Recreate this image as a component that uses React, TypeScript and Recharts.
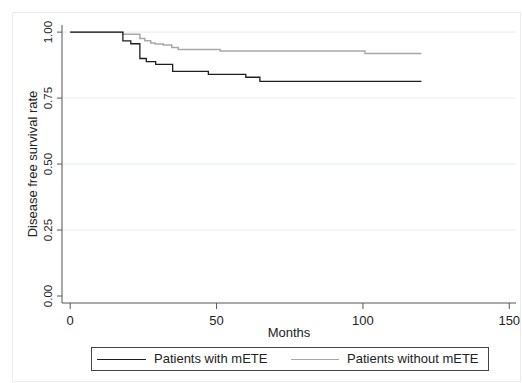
import React from 'react';
import {
  LineChart,
  Line,
  XAxis,
  YAxis,
  ReferenceLine,
  Legend,
  Label,
} from 'recharts';

const FONT = '"Liberation Sans", Arial, sans-serif';

// Kaplan-Meier steps
const monthsWith = [0, 18, 20.7, 23.8, 26, 29.2, 35, 47.2, 60, 64.8, 120];
const survWith = [1, 0.967, 0.956, 0.9, 0.888, 0.878, 0.851, 0.84, 0.829, 0.813, 0.813];

const monthsWithout = [0, 18, 23.8, 25.5, 27.5, 29, 31.8, 34.7, 36.9, 51.2, 100.7, 120];
const survWithout = [1, 0.992, 0.976, 0.967, 0.959, 0.955, 0.951, 0.942, 0.934, 0.928, 0.919, 0.919];

const xTicks = [0, 50, 100, 150];
const yTicks = [0, 0.25, 0.5, 0.75, 1];
const gridValues = [0.25, 0.5, 0.75, 1];

const withData = monthsWith.map((t, i) => ({ t, s: survWith[i] }));
const withoutData = monthsWithout.map((t, i) => ({ t, s: survWithout[i] }));

const XTick = ({ x, y, payload }: any) => (
  <text x={x} y={y + 9} textAnchor="middle" dominantBaseline="central"
    fontFamily={FONT} fontSize={13} fill="#222">
    {payload.value}
  </text>
);

const YTick = ({ y, payload }: any) => (
  <text x={48} y={y} textAnchor="middle" dominantBaseline="central"
    transform={`rotate(-90, 48, ${y})`} fontFamily={FONT} fontSize={11.5} fill="#222">
    {Number(payload.value).toFixed(2)}
  </text>
);

const LegendBox = () => (
  <div style={{
    position: 'relative', width: 398, height: 24, boxSizing: 'border-box',
    border: '1px solid #444', fontFamily: FONT, fontSize: 13, color: '#222',
  }}>
    <div style={{ position: 'absolute', left: 5, top: 11, width: 49, borderTop: '1.3px solid #1e1e1e' }} />
    <span style={{ position: 'absolute', left: 62, top: 3, whiteSpace: 'nowrap' }}>Patients with mETE</span>
    <div style={{ position: 'absolute', left: 199, top: 11, width: 48, borderTop: '1.5px solid #a8a8a8' }} />
    <span style={{ position: 'absolute', left: 255, top: 3, whiteSpace: 'nowrap' }}>Patients without mETE</span>
  </div>
);

export default function App() {
  return (
    <div style={{ position: 'absolute', left: 0, top: 0, width: 522, height: 383, background: '#fff' }}>
      <div style={{
        position: 'absolute', left: 12, top: 12, width: 509, height: 370,
        border: '1px solid #ececec', boxSizing: 'border-box',
      }} />
      <LineChart width={522} height={383} margin={{ top: 25, right: 6, bottom: 12, left: 12 }}>
        <XAxis
          dataKey="t"
          type="number"
          domain={[-2.8, 152.3]}
          ticks={xTicks}
          allowDataOverflow
          height={44}
          stroke="#555"
          tickSize={6}
          tick={<XTick />}
          allowDuplicatedCategory={false}
        >
          <Label
            content={({ viewBox }: any) => (
              <text x={viewBox.x + viewBox.width / 2} y={viewBox.y + 29} textAnchor="middle"
                dominantBaseline="central" fontFamily={FONT} fontSize={13} fill="#222">
                Months
              </text>
            )}
          />
        </XAxis>
        <YAxis
          type="number"
          domain={[-0.0265, 1.027]}
          ticks={yTicks}
          allowDataOverflow
          width={50}
          stroke="#555"
          tickSize={5}
          tick={<YTick />}
        >
          <Label
            content={({ viewBox }: any) => {
              const cy = viewBox.y + viewBox.height / 2;
              return (
                <text x={32} y={cy} textAnchor="middle" dominantBaseline="central"
                  transform={`rotate(-90, 32, ${cy})`} fontFamily={FONT} fontSize={13} fill="#222">
                  Disease free survival rate
                </text>
              );
            }}
          />
        </YAxis>
        {gridValues.map((v) => (
          <ReferenceLine key={v} y={v} stroke="#e8eeee" strokeWidth={1} />
        ))}
        <Line
          data={withoutData}
          dataKey="s"
          type="stepAfter"
          stroke="#a8a8a8"
          strokeWidth={1.5}
          dot={false}
          isAnimationActive={false}
          name="Patients without mETE"
        />
        <Line
          data={withData}
          dataKey="s"
          type="stepAfter"
          stroke="#1e1e1e"
          strokeWidth={1.3}
          dot={false}
          isAnimationActive={false}
          name="Patients with mETE"
        />
        <Legend
          verticalAlign="bottom"
          content={<LegendBox />}
          wrapperStyle={{ left: 91, bottom: 12, width: 398, height: 24 }}
        />
      </LineChart>
    </div>
  );
}
